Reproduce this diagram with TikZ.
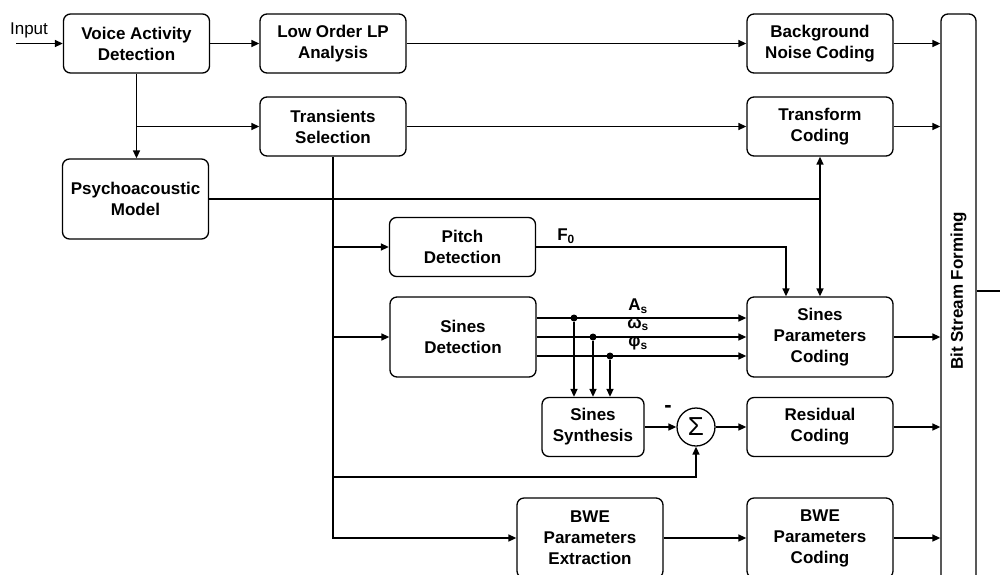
\documentclass[tikz,border=0pt]{standalone}
\usepackage{fontspec}
\setmainfont{Liberation Sans}
\usetikzlibrary{arrows.meta,calc}
\tikzset{
  block/.style={draw,rounded corners=7pt,line width=1.3pt,align=center,
    minimum width=146pt,minimum height=59pt,inner sep=2pt,
    font=\fontsize{17}{21}\selectfont\bfseries},
  tall/.style={minimum height=80pt},
  conn/.style={line width=1.5pt},
  arr/.style={conn,-{Triangle[length=8pt,width=7pt]}},
  biarr/.style={conn,{Triangle[length=8pt,width=7pt]}-{Triangle[length=8pt,width=7pt]}},
  dot/.style={circle,fill=black,inner sep=0pt,minimum size=7pt},
  sig/.style={font=\fontsize{17}{21}\selectfont\bfseries,inner sep=0pt},
  adder/.style={draw,circle,line width=1.3pt,minimum size=38pt,inner sep=0pt,
    font=\fontsize{26}{26}\selectfont}
}
\begin{document}
\begin{tikzpicture}[x=1pt,y=-1pt]
  \useasboundingbox (0,0) rectangle (1000,574);
  \clip (0,0) rectangle (1000,574);
  % blocks
  \node[block] (vad) at (136.5,43.5) {Voice Activity\\Detection};
  \node[block] (lpa) at (333,43.5) {Low Order LP\\Analysis};
  \node[block] (bnc) at (820,43.5) {Background\\Noise Coding};
  \node[block] (trs) at (333,126.5) {Transients\\Selection};
  \node[block] (trc) at (820,126.5) {Transform\\Coding};
  \node[block,tall] (psy) at (135.5,199) {Psychoacoustic\\Model};
  \node[block] (pit) at (462.5,247) {Pitch\\Detection};
  \node[block,tall] (sid) at (463,337) {Sines\\Detection};
  \node[block,tall] (spc) at (820,337) {Sines\\Parameters\\Coding};
  \node[block,minimum width=102pt] (sis) at (593,427) {Sines\\Synthesis};
  \node[adder] (sum) at (696,427) {Σ};
  \node[block] (rec) at (820,427) {Residual\\Coding};
  \node[block,tall] (bwx) at (590,538) {BWE\\Parameters\\Extraction};
  \node[block,tall] (bwc) at (820,538) {BWE\\Parameters\\Coding};
  \node[block,minimum width=35pt,minimum height=586pt] (bsf) at (958.5,307) {};
  \node[sig,rotate=90] (bsft) at (958.5,291) {Bit Stream Forming};

  % input / output
  \coordinate (in) at (16,43.5);
  \coordinate (out) at (1000,291);
  \node[font=\fontsize{17}{21}\selectfont] (inlab) at (29,30) {Input};
  \draw[arr] (in) -- (vad);
  \draw[conn] (bsf.east |- out) -- (out);

  % top rows
  \draw[arr] (vad) -- (lpa);
  \draw[arr] (lpa) -- (bnc);
  \draw[arr] (vad.south) -- (vad.south |- psy.north);
  \draw[arr] (vad.south |- trs.west) -- (trs.west);
  \draw[arr] (trs) -- (trc);
  \draw[conn] (psy.east) -- (psy.east -| trc.south);
  \draw[biarr] (trc.south) -- (spc.north);

  % transients branch
  \coordinate (fb) at (333,477);
  \draw[arr] (trs.south) |- (bwx.west);
  \draw[arr] (trs.south |- pit.west) -- (pit.west);
  \draw[arr] (trs.south |- sid.west) -- (sid.west);
  \draw[arr] (fb) -| (sum.south);

  % pitch
  \coordinate (f0) at (786,247);
  \draw[arr] (pit.east) -- (f0) -- (f0 |- spc.north);
  \node[sig] (f0lab) at (566,236) {F\textsubscript{0}};

  % sines parameters
  \foreach \dy/\dx/\name/\lab in {-19/574/dA/A, 0/593/dW/ω, 19/610/dP/φ}{
    \draw[arr] ($(sid.east)+(0,\dy)$) -- ($(spc.west)+(0,\dy)$);
    \node[dot] (\name) at (\dx,337+\dy) {};
    \draw[arr] (\name) -- (\name |- sis.north);
    \node[sig] (\name lab) at (638,325+\dy) {\lab\textsubscript{s}};
  }

  \draw[arr] (sis) -- (sum);
  \node[sig,font=\fontsize{22}{22}\selectfont\bfseries] (minus) at (668,409) {-};
  \draw[arr] (sum) -- (rec);
  \draw[arr] (bwx) -- (bwc);

  % into bit stream forming
  \foreach \n in {bnc,trc,spc,rec,bwc}
    \draw[arr] (\n.east) -- (\n.east -| bsf.west);
\end{tikzpicture}
\end{document}
